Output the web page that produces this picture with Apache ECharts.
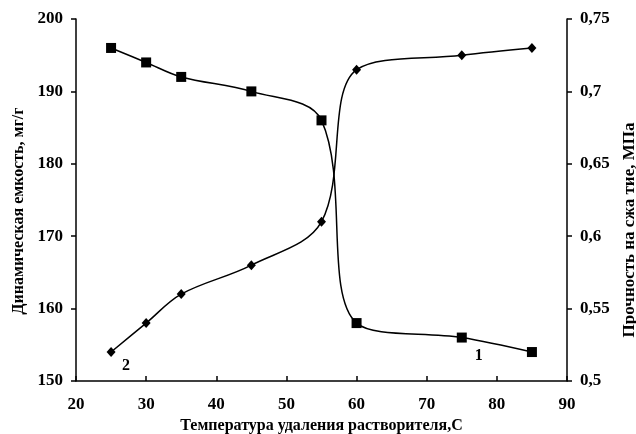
<!DOCTYPE html>
<html><head><meta charset="utf-8">
<script src="https://cdn.jsdelivr.net/npm/echarts@6/dist/echarts.min.js"></script>
<style>html,body{margin:0;padding:0;background:#fff}#c{width:636px;height:434px}</style>
</head><body><div id="c"></div>
<script>
const temps = [25, 30, 35, 45, 55, 60, 75, 85];
const capacity = [196, 194, 192, 190, 186, 158, 156, 154];      // curve 1, left axis
const strength = [0.52, 0.54, 0.56, 0.58, 0.61, 0.715, 0.725, 0.73]; // curve 2, right axis
const xTicks = [20, 30, 40, 50, 60, 70, 80, 90];
const leftTicks = [150, 160, 170, 180, 190, 200];
const rightTicks = ['0,5', '0,55', '0,6', '0,65', '0,7', '0,75'];

const F = 'Liberation Serif';
const chart = echarts.init(document.getElementById('c'));
const tickFont = {fontFamily: F, fontWeight: 'bold', fontSize: 17, color: '#000'};
const nameFont = {fontFamily: F, fontWeight: 'bold', fontSize: 16, color: '#000'};
chart.setOption({
  animation: false,
  grid: {left: 76, right: 69, top: 19, bottom: 53, containLabel: false, outerBoundsMode: 'none'},
  xAxis: {
    type: 'value', min: 20, max: 90, interval: 10,
    name: 'Температура удаления растворителя,С', nameLocation: 'middle', nameGap: 35,
    nameTextStyle: Object.assign({}, nameFont),
    axisLine: {lineStyle: {color: '#000', width: 1.5}},
    axisTick: {inside: true, length: 5, lineStyle: {color: '#000', width: 1.5}},
    axisLabel: Object.assign({margin: 15, formatter: v => String(xTicks[Math.round((v - 20) / 10)])}, tickFont),
    splitLine: {show: false}
  },
  yAxis: [{
    type: 'value', min: 150, max: 200, interval: 10, position: 'left',
    name: 'Динамическая емкость, мг/г', nameLocation: 'middle', nameGap: 47,
    nameTextStyle: Object.assign({padding: [0, 22, 0, 0]}, nameFont),
    axisLine: {show: true, lineStyle: {color: '#000', width: 1.5}},
    axisTick: {show: true, length: 5, lineStyle: {color: '#000', width: 1.5}},
    axisLabel: Object.assign({margin: 13, formatter: v => String(leftTicks[Math.round((v - 150) / 10)])}, tickFont),
    splitLine: {show: false}
  }, {
    type: 'value', min: 0.5, max: 0.75, interval: 0.05, position: 'right',
    name: 'Прочность на сжа тие, МПа', nameLocation: 'middle', nameGap: 52,
    nameRotate: 90,
    nameTextStyle: Object.assign({padding: [0, 60, 0, 0]}, nameFont, {fontSize: 17}),
    axisLine: {show: true, lineStyle: {color: '#000', width: 1.5}},
    axisTick: {show: true, length: 5, lineStyle: {color: '#000', width: 1.5}},
    axisLabel: Object.assign({margin: 13, formatter: v => rightTicks[Math.round((v - 0.5) / 0.05)]}, tickFont),
    splitLine: {show: false}
  }],
  series: [{
    type: 'line', yAxisIndex: 0, smooth: 0.35,
    data: temps.map((t, i) => {
      const p = {value: [t, capacity[i]]};
      if (i === 6) p.label = {show: true, formatter: '1', position: 'bottom', offset: [17, 0], fontFamily: F, fontWeight: 'bold', fontSize: 16, color: '#000'};
      return p;
    }),
    symbol: 'rect', symbolSize: 10,
    itemStyle: {color: '#000'}, lineStyle: {color: '#000', width: 1.5}
  }, {
    type: 'line', yAxisIndex: 1, smooth: 0.35,
    data: strength.map((s, i) => {
      const p = {value: [temps[i], s]};
      if (i === 0) p.label = {show: true, formatter: '2', position: 'bottom', offset: [15, -4], fontFamily: F, fontWeight: 'bold', fontSize: 16, color: '#000'};
      return p;
    }),
    symbol: 'diamond', symbolSize: [9, 10],
    itemStyle: {color: '#000'}, lineStyle: {color: '#000', width: 1.5}
  }]
});
</script></body></html>
